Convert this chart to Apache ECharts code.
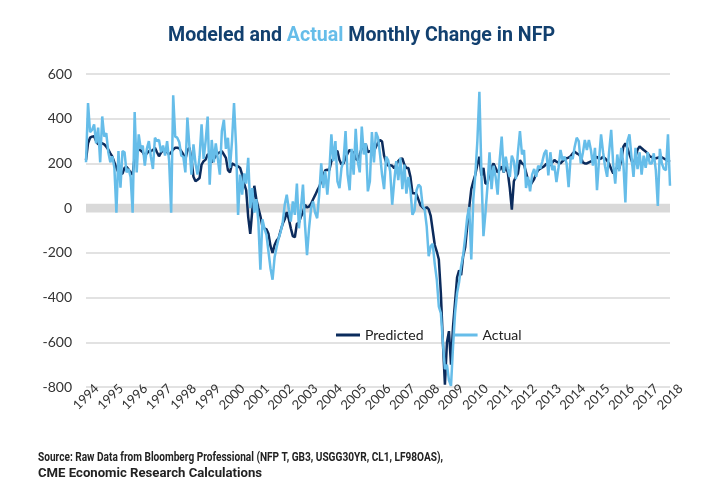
<!DOCTYPE html>
<html><head><meta charset="utf-8">
<script src="https://cdn.jsdelivr.net/npm/echarts@6/dist/echarts.min.js"></script>
<style>html,body{margin:0;padding:0;background:#fff}#c{width:720px;height:500px}</style>
</head><body><div id="c"></div>
<script>
const startYear = 1994;
const yearLabels = ['1994','1995','1996','1997','1998','1999','2000','2001','2002','2003','2004','2005','2006','2007','2008','2009','2010','2011','2012','2013','2014','2015','2016','2017','2018'];
const yTicks = [-800,-600,-400,-200,0,200,400,600];
const seriesNames = ['Predicted','Actual'];
const titleParts = ['Modeled and ', 'Actual', ' Monthly Change in NFP'];
const sourceLines = ['Source: Raw Data from Bloomberg Professional (NFP T, GB3, USGG30YR, CL1, LF98OAS),', 'CME Economic Research Calculations'];

// monthly values, Jan 1994 .. Jan 2018
const actual = [
 205,470,340,350,375,290,360,205,410,320,335,250,
 205,232,180,-20,255,92,255,250,160,175,140,-20,
 430,160,330,265,280,190,265,300,230,175,315,300,
 305,250,280,235,300,210,-20,505,320,315,295,235,
 230,160,405,275,150,285,200,150,230,375,220,300,
 410,105,305,205,290,220,150,345,395,265,315,180,
 300,470,280,-30,150,60,155,110,225,0,90,-20,
 40,-60,-275,-50,-90,-120,-195,-270,-320,-220,-175,-135,
 -105,-65,15,60,-5,-60,30,-30,110,-90,0,105,
 -75,-210,-90,0,30,-20,-45,60,200,90,165,60,
 165,330,210,300,120,90,180,210,345,150,80,265,
 150,355,210,160,365,240,290,75,120,340,205,340,
 315,240,150,85,230,215,165,15,120,210,125,225,
 85,195,65,140,80,-30,-10,80,105,95,10,-5,
 -80,-215,-170,-160,-250,-320,-440,-470,-600,-720,-700,-770,
 -795,-620,-470,-380,-330,-260,-210,-130,-40,5,-230,40,
 150,300,520,160,-125,-20,100,250,85,190,140,60,
 215,320,160,230,175,140,235,210,130,250,345,240,
 260,90,140,75,150,175,140,190,177,207,245,260,
 147,250,170,190,117,180,260,215,230,200,94,230,
 220,275,315,300,200,245,305,260,305,260,190,270,
 80,215,330,250,185,140,255,350,195,110,240,165,
 270,200,25,300,330,230,140,270,175,250,150,235,
 180,250,200,200,245,170,10,265,200,175,170,330,
 100
];
const predicted = [
 215,290,315,320,322,300,285,292,290,285,275,262,
 245,230,205,180,160,152,155,180,185,173,160,150,
 230,255,262,258,250,232,245,255,255,260,270,250,
 232,248,258,262,250,240,250,262,270,270,268,255,
 240,217,260,270,220,140,120,127,135,195,210,217,
 240,240,205,220,232,245,250,255,240,225,170,160,
 200,195,190,187,180,150,110,80,-40,-115,-10,100,
 40,0,-35,-82,-90,-95,-115,-170,-200,-165,-145,-134,
 -100,-70,-50,-18,-48,-90,-125,-130,-70,-65,-38,-20,
 15,3,7,20,40,58,78,95,120,145,170,172,
 170,210,222,255,255,215,195,200,225,245,260,255,
 248,220,215,240,268,282,285,250,255,255,255,275,
 292,305,298,235,205,190,192,190,178,195,210,220,
 222,195,179,179,140,67,67,62,37,12,3,-5,
 5,-5,-35,-100,-165,-194,-230,-380,-600,-790,-600,-550,
 -700,-530,-420,-310,-278,-300,-215,-175,-80,5,85,120,
 150,195,230,145,180,110,110,160,185,200,180,160,
 172,187,160,185,160,90,-7,120,140,155,215,200,
 195,160,125,101,115,130,155,170,177,182,188,198,
 196,192,205,215,208,203,200,210,218,223,226,232,
 245,253,245,240,230,205,200,200,205,209,214,222,
 230,220,222,230,222,213,198,175,155,172,183,178,
 215,275,290,268,242,215,185,230,262,276,268,260,
 253,245,232,228,223,223,225,230,227,222,217,212,
 207
];

const toPairs = arr => arr.map((v, i) => [startYear + i / 12, v]);
const NAVY = '#0b2b5c', LIGHT = '#66bde9', TITLE_NAVY = '#12406f';
const FONT = 'Lato, "Open Sans", sans-serif';

// condensed look: measure text and squeeze horizontally to the reference widths
const ctx = document.createElement('canvas').getContext('2d');
const TITLE_FONT = 'bold 20px Roboto';
const SRC_FONT = 'bold 12.5px Roboto';
ctx.font = TITLE_FONT;
const titleScale = 387 / ctx.measureText(titleParts.join('')).width;
ctx.font = SRC_FONT;
const srcScale1 = 405 / ctx.measureText(sourceLines[0]).width;
const srcScale2 = 224 / ctx.measureText(sourceLines[1]).width;

const chart = echarts.init(document.getElementById('c'), null, {renderer: 'canvas'});
chart.setOption({
  animation: false,
  backgroundColor: '#ffffff',
  graphic: [{
    type: 'text', x: 361.5, y: 36, scaleX: titleScale,
    style: {
      text: '{a|' + titleParts[0] + '}{b|' + titleParts[1] + '}{a|' + titleParts[2] + '}',
      align: 'center', verticalAlign: 'middle',
      rich: {
        a: {font: TITLE_FONT, fill: TITLE_NAVY},
        b: {font: TITLE_FONT, fill: LIGHT}
      }
    }
  }, {
    type: 'text', x: 38, y: 458, scaleX: srcScale1,
    style: {text: sourceLines[0], font: SRC_FONT, fill: '#222', verticalAlign: 'middle'}
  }, {
    type: 'text', x: 38, y: 473.5, scaleX: srcScale2,
    style: {text: sourceLines[1], font: SRC_FONT, fill: '#222', verticalAlign: 'middle'}
  }],
  legend: {
    data: seriesNames, left: 331, top: 323, icon: 'rect', itemWidth: 24, itemHeight: 3, itemGap: 30,
    textStyle: {fontFamily: FONT, fontSize: 14, color: '#222'}
  },
  grid: {left: 86, right: 50, top: 74, bottom: 113, containLabel: false},
  xAxis: {
    type: 'value', min: 1994, max: 2018, interval: 1,
    axisLine: {show: false}, axisTick: {show: false}, splitLine: {show: false},
    axisLabel: {
      rotate: 45, align: 'center', verticalAlign: 'middle', margin: 10,
      fontFamily: FONT, fontSize: 13, color: '#333', showMinLabel: true, showMaxLabel: true,
      formatter: v => yearLabels[Math.round(v - startYear)]
    }
  },
  yAxis: {
    type: 'value', min: yTicks[0], max: yTicks[yTicks.length - 1], interval: 200,
    axisLine: {show: false}, axisTick: {show: false},
    axisLabel: {fontFamily: FONT, fontSize: 14, color: '#333', margin: 14},
    splitLine: {lineStyle: {color: '#d9d9d9', width: 1.5}}
  },
  series: [
    {
      name: seriesNames[0], type: 'line', data: toPairs(predicted), showSymbol: false,
      lineStyle: {color: NAVY, width: 2.5}, itemStyle: {color: NAVY},
      markArea: {silent: true, itemStyle: {color: '#d9d9d9'}, data: [[{yAxis: -20}, {yAxis: 20}]]}
    },
    {
      name: seriesNames[1], type: 'line', data: toPairs(actual), showSymbol: false,
      lineStyle: {color: LIGHT, width: 2.5}, itemStyle: {color: LIGHT}
    }
  ]
});
</script></body></html>
